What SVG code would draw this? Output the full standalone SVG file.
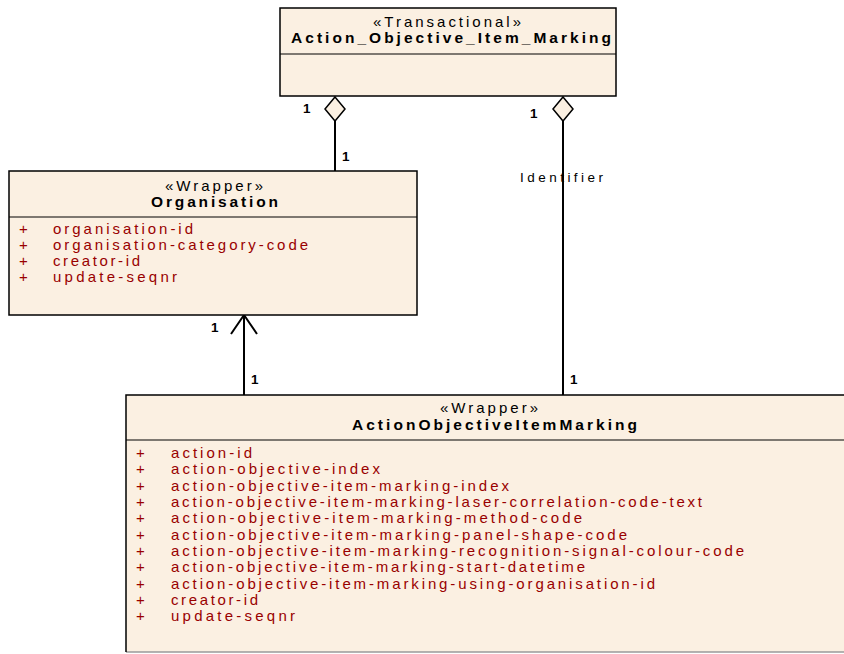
<svg xmlns="http://www.w3.org/2000/svg" width="844" height="654" viewBox="0 0 844 654">
<style>
.box{fill:#FBF0E2;stroke:#000;stroke-width:1.5}
.div{stroke:#000;stroke-width:1}
.st{font-family:"Liberation Sans",Arial,sans-serif;font-size:15px;fill:#000}
.nm{font-family:"Liberation Sans",Arial,sans-serif;font-size:15.5px;font-weight:bold;fill:#000}
.at{font-family:"Liberation Sans",Arial,sans-serif;font-size:15px;fill:#990000}
.lb{font-family:"Liberation Sans",Arial,sans-serif;font-size:13.5px;fill:#000}
.one{font-family:"Liberation Sans",Arial,sans-serif;font-size:13.5px;font-weight:bold;fill:#000}
.ln{stroke:#000;stroke-width:2;fill:none}
.dm{fill:#FBF0E2;stroke:#000;stroke-width:1.5}
</style>
<g id="connectors">
<line class="ln" x1="335" y1="121" x2="335" y2="171"/>
<polygon class="dm" points="335,97 345,109 335,121 325,109"/>
<text class="one" x="303" y="113">1</text>
<text class="one" x="342" y="161">1</text>
<line class="ln" x1="563" y1="121" x2="563" y2="395"/>
<polygon class="dm" points="563,97 573,109 563,121 553,109"/>
<text class="one" x="530" y="118">1</text>
<text class="lb" x="520" y="182" textLength="83" lengthAdjust="spacing">Identifier</text>
<text class="one" x="570" y="384">1</text>
<line class="ln" x1="244" y1="316" x2="244" y2="395"/>
<polyline class="ln" points="231,334 244,315 257,334"/>
<text class="one" x="211" y="332">1</text>
<text class="one" x="251" y="384">1</text>
</g>
<g id="node-aoim-transactional">
<rect class="box" x="280" y="8" width="336" height="88"/>
<line class="div" x1="280" y1="54" x2="616" y2="54"/>
<text class="st" x="373" y="27" textLength="148" lengthAdjust="spacing">«Transactional»</text>
<text class="nm" x="291" y="43" textLength="320" lengthAdjust="spacing">Action_Objective_Item_Marking</text>
</g>
<g id="node-organisation">
<rect class="box" x="9" y="171" width="408" height="144"/>
<line class="div" x1="9" y1="217" x2="417" y2="217"/>
<text class="st" x="165" y="191" textLength="98" lengthAdjust="spacing">«Wrapper»</text>
<text class="nm" x="151" y="207" textLength="127" lengthAdjust="spacing">Organisation</text>
<text class="at" x="19" y="234">+</text><text class="at" x="53" y="234" textLength="140" lengthAdjust="spacing">organisation-id</text>
<text class="at" x="19" y="250">+</text><text class="at" x="53" y="250" textLength="255" lengthAdjust="spacing">organisation-category-code</text>
<text class="at" x="19" y="266">+</text><text class="at" x="53" y="266" textLength="87" lengthAdjust="spacing">creator-id</text>
<text class="at" x="19" y="282">+</text><text class="at" x="53" y="282" textLength="124" lengthAdjust="spacing">update-seqnr</text>
</g>
<g id="node-actionobjectiveitemmarking">
<rect x="126" y="395" width="730" height="257" fill="#FBF0E2"/>
<line x1="126" y1="652" x2="856" y2="652" stroke="#9a9a9a" stroke-width="1.5"/>
<polyline points="126,652 126,395 856,395" fill="none" stroke="#000" stroke-width="1.5"/>
<line class="div" x1="126" y1="440" x2="856" y2="440"/>
<text class="st" x="440" y="413" textLength="98" lengthAdjust="spacing">«Wrapper»</text>
<text class="nm" x="352" y="430" textLength="285" lengthAdjust="spacing">ActionObjectiveItemMarking</text>
<text class="at" x="136" y="458">+</text><text class="at" x="171" y="458" textLength="81" lengthAdjust="spacing">action-id</text>
<text class="at" x="136" y="474">+</text><text class="at" x="171" y="474" textLength="209" lengthAdjust="spacing">action-objective-index</text>
<text class="at" x="136" y="491">+</text><text class="at" x="171" y="491" textLength="338" lengthAdjust="spacing">action-objective-item-marking-index</text>
<text class="at" x="136" y="507">+</text><text class="at" x="171" y="507" textLength="531" lengthAdjust="spacing">action-objective-item-marking-laser-correlation-code-text</text>
<text class="at" x="136" y="523">+</text><text class="at" x="171" y="523" textLength="411" lengthAdjust="spacing">action-objective-item-marking-method-code</text>
<text class="at" x="136" y="540">+</text><text class="at" x="171" y="540" textLength="456" lengthAdjust="spacing">action-objective-item-marking-panel-shape-code</text>
<text class="at" x="136" y="556">+</text><text class="at" x="171" y="556" textLength="573" lengthAdjust="spacing">action-objective-item-marking-recognition-signal-colour-code</text>
<text class="at" x="136" y="572">+</text><text class="at" x="171" y="572" textLength="414" lengthAdjust="spacing">action-objective-item-marking-start-datetime</text>
<text class="at" x="136" y="589">+</text><text class="at" x="171" y="589" textLength="484" lengthAdjust="spacing">action-objective-item-marking-using-organisation-id</text>
<text class="at" x="136" y="605">+</text><text class="at" x="171" y="605" textLength="87" lengthAdjust="spacing">creator-id</text>
<text class="at" x="136" y="621">+</text><text class="at" x="171" y="621" textLength="124" lengthAdjust="spacing">update-seqnr</text>
</g>
</svg>
